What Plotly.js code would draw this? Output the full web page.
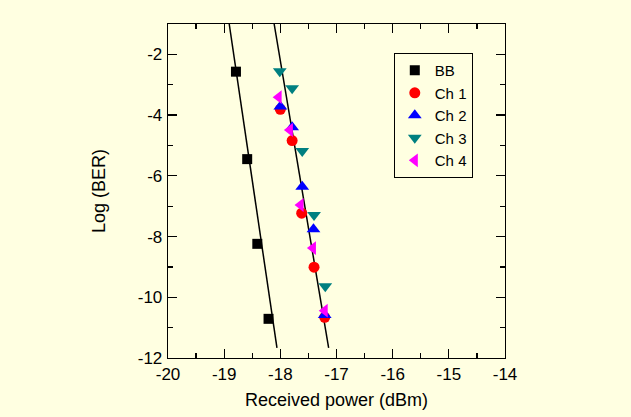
<!DOCTYPE html>
<html>
<head>
<meta charset="utf-8">
<script src="https://cdn.plot.ly/plotly-3.0.1.min.js"></script>
<style>html,body{margin:0;padding:0;background:#FFFFE1;}</style>
</head>
<body>
<div id="chart" style="width:631px;height:417px;"></div>
<script>
// Data
const bbX = [-18.79, -18.59, -18.41, -18.21];
const bbY = [-2.57, -5.45, -8.24, -10.71];

const ch1X = [-18.00, -17.79, -17.62, -17.40, -17.21];
const ch1Y = [-3.81, -4.84, -7.23, -9.01, -10.66];

const ch2X = [-18.00, -17.79, -17.61, -17.41, -17.21];
const ch2Y = [-3.72, -4.40, -6.36, -7.76, -10.58];

const ch3X = [-18.01, -17.79, -17.61, -17.40, -17.20];
const ch3Y = [-2.56, -3.12, -5.18, -7.29, -9.64];

const ch4X = [-18.03, -17.83, -17.64, -17.42, -17.21];
const ch4Y = [-3.41, -4.49, -6.96, -8.38, -10.44];

// Fitted lines
const fitBBX = [-18.91, -18.06];
const fitBBY = [-1, -11.67];
const fitChX = [-18.11, -17.14];
const fitChY = [-1, -11.67];

const xTicks = [-20, -19, -18, -17, -16, -15, -14];
const yTicks = [-12, -10, -8, -6, -4, -2];

const fam = 'Liberation Sans, Arial, sans-serif';
const tickFont = {family: fam, size: 17, color: '#000'};
const titleFont = {family: fam, size: 18, color: '#000'};
const legFont = {family: fam, size: 15, color: '#000'};

const traces = [
  {x: fitBBX, y: fitBBY, mode: 'lines', line: {color: '#000', width: 1.5}, showlegend: false, hoverinfo: 'skip'},
  {x: fitChX, y: fitChY, mode: 'lines', line: {color: '#000', width: 1.5}, showlegend: false, hoverinfo: 'skip'},
  {x: bbX, y: bbY, mode: 'markers', name: 'BB', marker: {symbol: 'square', size: 10, color: '#000'}},
  {x: ch1X, y: ch1Y, mode: 'markers', name: 'Ch 1', marker: {symbol: 'circle', size: 11, color: '#FF0000'}},
  {x: ch2X, y: ch2Y, mode: 'markers', name: 'Ch 2', marker: {symbol: 'triangle-up', size: 12, color: '#0000FF'}},
  {x: ch3X, y: ch3Y, mode: 'markers', name: 'Ch 3', marker: {symbol: 'triangle-down', size: 12, color: '#008080'}},
  {x: ch4X, y: ch4Y, mode: 'markers', name: 'Ch 4', marker: {symbol: 'triangle-left', size: 12, color: '#FF00FF'}}
];

const axisCommon = {
  showline: true, linecolor: '#000', linewidth: 1.3, mirror: 'ticks',
  ticks: 'inside', ticklen: 9, tickwidth: 1.3, tickcolor: '#000',
  showgrid: false, zeroline: false, tickfont: tickFont
};

const layout = {
  width: 631, height: 417,
  margin: {l: 168, r: 126, t: 24, b: 59},
  paper_bgcolor: '#FFFFE1', plot_bgcolor: '#FFFFE1',
  font: tickFont,
  xaxis: Object.assign({}, axisCommon, {
    range: [-20, -14], tickvals: xTicks, ticktext: xTicks.map(String),
    ticklabelstandoff: 0,
    minor: {ticks: 'inside', ticklen: 5, tickwidth: 1.3, tickcolor: '#000', dtick: 0.5, tick0: -20, showgrid: false},
    title: {text: 'Received power (dBm)', font: titleFont, standoff: 10}
  }),
  yaxis: Object.assign({}, axisCommon, {
    range: [-12, -1], tickvals: yTicks, ticktext: yTicks.map(String),
    ticklabelstandoff: 1,
    minor: {ticks: 'inside', ticklen: 5, tickwidth: 1.3, tickcolor: '#000', dtick: 1, tick0: -12, showgrid: false},
    title: {text: 'Log (BER)', font: titleFont, standoff: 27}
  }),
  legend: {
    x: 0.67, y: 0.913, xanchor: 'left', yanchor: 'top',
    bgcolor: '#FFFFE1', bordercolor: '#000', borderwidth: 1,
    font: legFont, tracegroupgap: 0, itemwidth: 30,
    entrywidth: 86, entrywidthmode: 'pixels'
  },
  showlegend: true
};

Plotly.newPlot('chart', traces, layout, {displayModeBar: false, staticPlot: true});
</script>
</body>
</html>
